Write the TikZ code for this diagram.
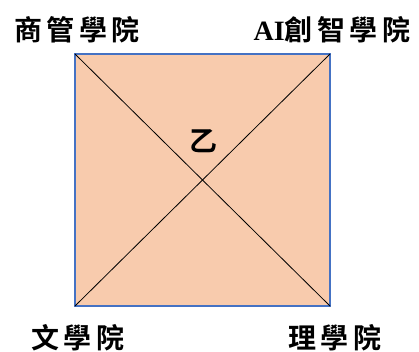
\documentclass[tikz,border=0pt]{standalone}
\usepackage{fontspec}
\newfontfamily\cjk[LetterSpace=16]{Noto Sans CJK TC Bold}
\newfontfamily\latinb{Liberation Serif Bold}
\definecolor{peach}{HTML}{F8CBAD}
\definecolor{edgeblue}{HTML}{4472C4}
\tikzset{college/.style={font=\cjk\fontsize{28}{31}\selectfont,inner sep=0pt}}
\begin{document}
\begin{tikzpicture}[x=1pt,y=1pt]
\useasboundingbox (0,0) rectangle (419,-352);
\coordinate (tl) at (75,-54);\coordinate (tr) at (330,-54);
\coordinate (bl) at (75,-306);\coordinate (br) at (330,-306);
\draw[fill=peach,draw=edgeblue,line width=1.2pt] (tl) rectangle (br);
\draw[line width=.8pt] (tl) -- (br);
\draw[line width=.8pt] (tr) -- (bl);
\node[college] (yi) at (203,-141){乙};
\node[college] (biz) at (77,-30){商管學院};
\node[college] (ai) at (332,-30){{\latinb AI}創智學院};
\node[college] (lit) at (78,-338){文學院};
\node[college] (sci) at (335,-338){理學院};
\end{tikzpicture}
\end{document}
